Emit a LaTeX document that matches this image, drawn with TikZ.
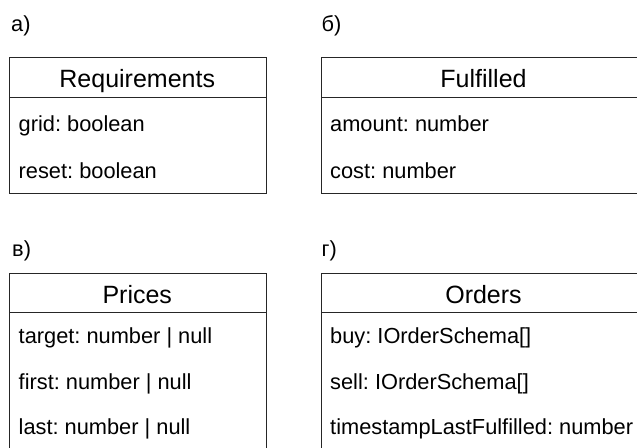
\documentclass[tikz,border=0pt]{standalone}
\usepackage{fontspec}
\setmainfont{Liberation Sans}
\frenchspacing
\begin{document}
\begin{tikzpicture}[x=1pt,y=-1pt,
  box/.style={draw=black!85, line width=1.4pt, inner sep=0pt, anchor=north west},
  sepline/.style={draw=black!85, line width=1.4pt},
  hdr/.style={anchor=base, inner sep=0pt, font=\fontsize{25}{30}\selectfont, text=black},
  fld/.style={anchor=base west, inner sep=0pt, font=\fontsize{21.8}{26}\selectfont, text=black},
  lbl/.style={anchor=base west, inner sep=0pt, font=\fontsize{21.8}{26}\selectfont, text=black}]
\useasboundingbox (0,0) rectangle (637,447);
\clip (0,0) rectangle (637,447);

% panel labels
\node[lbl] (la) at (11,31.7) {а)};
\node[lbl] (lb) at (321.5,31.7) {б)};
\node[lbl] (lc) at (12,256.5) {в)};
\node[lbl] (ld) at (321.5,256.5) {г)};

% boxes
\node[box, minimum width=256.5pt, minimum height=136pt] (boxA) at (9,57) {};
\node[box, minimum width=325pt, minimum height=136pt] (boxB) at (321,57) {};
\node[box, minimum width=256.5pt, minimum height=200pt] (boxC) at (9,272.5) {};
\node[box, minimum width=325pt, minimum height=200pt] (boxD) at (321,272.5) {};

% header separators
\draw[sepline] (boxA.north west) ++(0,40.5) -- ++(256.5,0);
\draw[sepline] (boxB.north west) ++(0,40.5) -- ++(325,0);
\draw[sepline] (boxC.north west) ++(0,40) -- ++(256.5,0);
\draw[sepline] (boxD.north west) ++(0,40) -- ++(325,0);

% headers
\node[hdr] (hA) at (137.25,87.3) {Requirements};
\node[hdr] (hB) at (483.5,87.3) {Fulfilled};
\node[hdr] (hC) at (137.25,303.5) {Prices};
\node[hdr] (hD) at (483.5,303.5) {Orders};

% fields
\node[fld] (a1) at (18.5,131) {grid: boolean};
\node[fld] (a2) at (18.5,178) {reset: boolean};

\node[fld] (b1) at (330,131) {amount: number};
\node[fld] (b2) at (330,178) {cost: number};

\node[fld] (c1) at (18.5,343.5) {target: number | null};
\node[fld] (c2) at (18.5,389) {first: number | null};
\node[fld] (c3) at (18.5,434.5) {last: number | null};

\node[fld] (d1) at (330,343.5) {buy: IOrderSchema[]};
\node[fld] (d2) at (330,389) {sell: IOrderSchema[]};
\node[fld] (d3) at (330,434.5) {timestampLastFulfilled: number};
\end{tikzpicture}
\end{document}
